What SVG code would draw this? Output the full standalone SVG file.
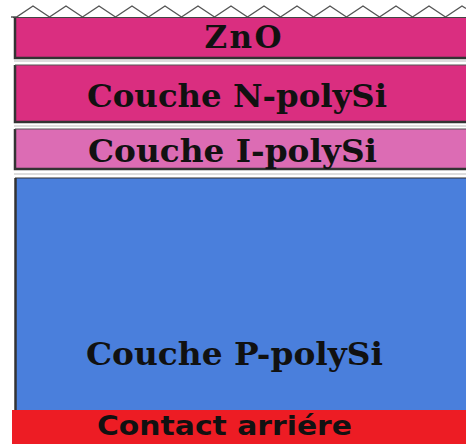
<svg xmlns="http://www.w3.org/2000/svg" width="466" height="444" viewBox="0 0 466 444">
<style>
.edge{fill:none;stroke:#333;stroke-width:2.5}
.sep{fill:none;stroke:#bbb;stroke-width:1}
.lbl{font-family:"DejaVu Serif","Liberation Serif",serif;font-weight:bold;font-size:31px;fill:#111}
.lbl2{font-family:"DejaVu Sans","Liberation Sans",sans-serif;font-weight:bold;font-size:27px;fill:#111}
</style>
<rect width="466" height="444" fill="#fff"/>
<g id="texture">
<polyline fill="#fff" stroke="#555" stroke-width="1.4" points="11,17 16.5,17 33,6 49.5,17 66,6 82.5,17 99,6 115.5,17 132,6 148.5,17 165,6 181.5,17 198,6 214.5,17 231,6 247.5,17 264,6 280.5,17 297,6 313.5,17 330,6 346.5,17 363,6 379.5,17 396,6 412.5,17 429,6 445.5,17 462,6 466,8.5"/>
</g>
<g id="zno">
<rect x="15" y="18" width="455" height="40" fill="#da2e80"/>
<path class="edge" d="M15,18 V58 H470"/>
<path d="M13,17.5 H470" stroke="#444" stroke-width="1.2"/>
<line class="sep" x1="14" y1="61" x2="466" y2="61"/>
<text class="lbl" x="243" y="48" text-anchor="middle" textLength="77" font-size="28">ZnO</text>
</g>
<g id="n-layer">
<rect x="15" y="65" width="455" height="58" fill="#da2e80"/>
<path class="edge" d="M15,65 V122 H470"/>
<path d="M15,65 H470" stroke="#555" stroke-width="1"/>
<line class="sep" x1="14" y1="126" x2="466" y2="126"/>
<text class="lbl" x="87" y="107" textLength="300" lengthAdjust="spacingAndGlyphs">Couche N-polySi</text>
</g>
<g id="i-layer">
<rect x="15" y="129" width="455" height="41" fill="#dc6cb4"/>
<path class="edge" d="M15,129 V169 H470"/>
<path d="M15,129 H470" stroke="#555" stroke-width="1"/>
<line class="sep" x1="14" y1="174" x2="466" y2="174"/>
<text class="lbl" x="88" y="162" textLength="289" lengthAdjust="spacingAndGlyphs">Couche I-polySi</text>
</g>
<g id="p-layer">
<rect x="15" y="178" width="455" height="232" fill="#4a7fdc"/>
<path class="edge" d="M15.5,178 V410"/>
<path d="M15,178 H470" stroke="#333" stroke-width="1.2"/>
<text class="lbl" x="86" y="365" textLength="297" lengthAdjust="spacingAndGlyphs">Couche P-polySi</text>
</g>
<g id="contact">
<rect x="12" y="410" width="458" height="34" fill="#ed1c24"/>
<text class="lbl2" x="97" y="435" textLength="255" lengthAdjust="spacingAndGlyphs">Contact arriére</text>
</g>
</svg>
